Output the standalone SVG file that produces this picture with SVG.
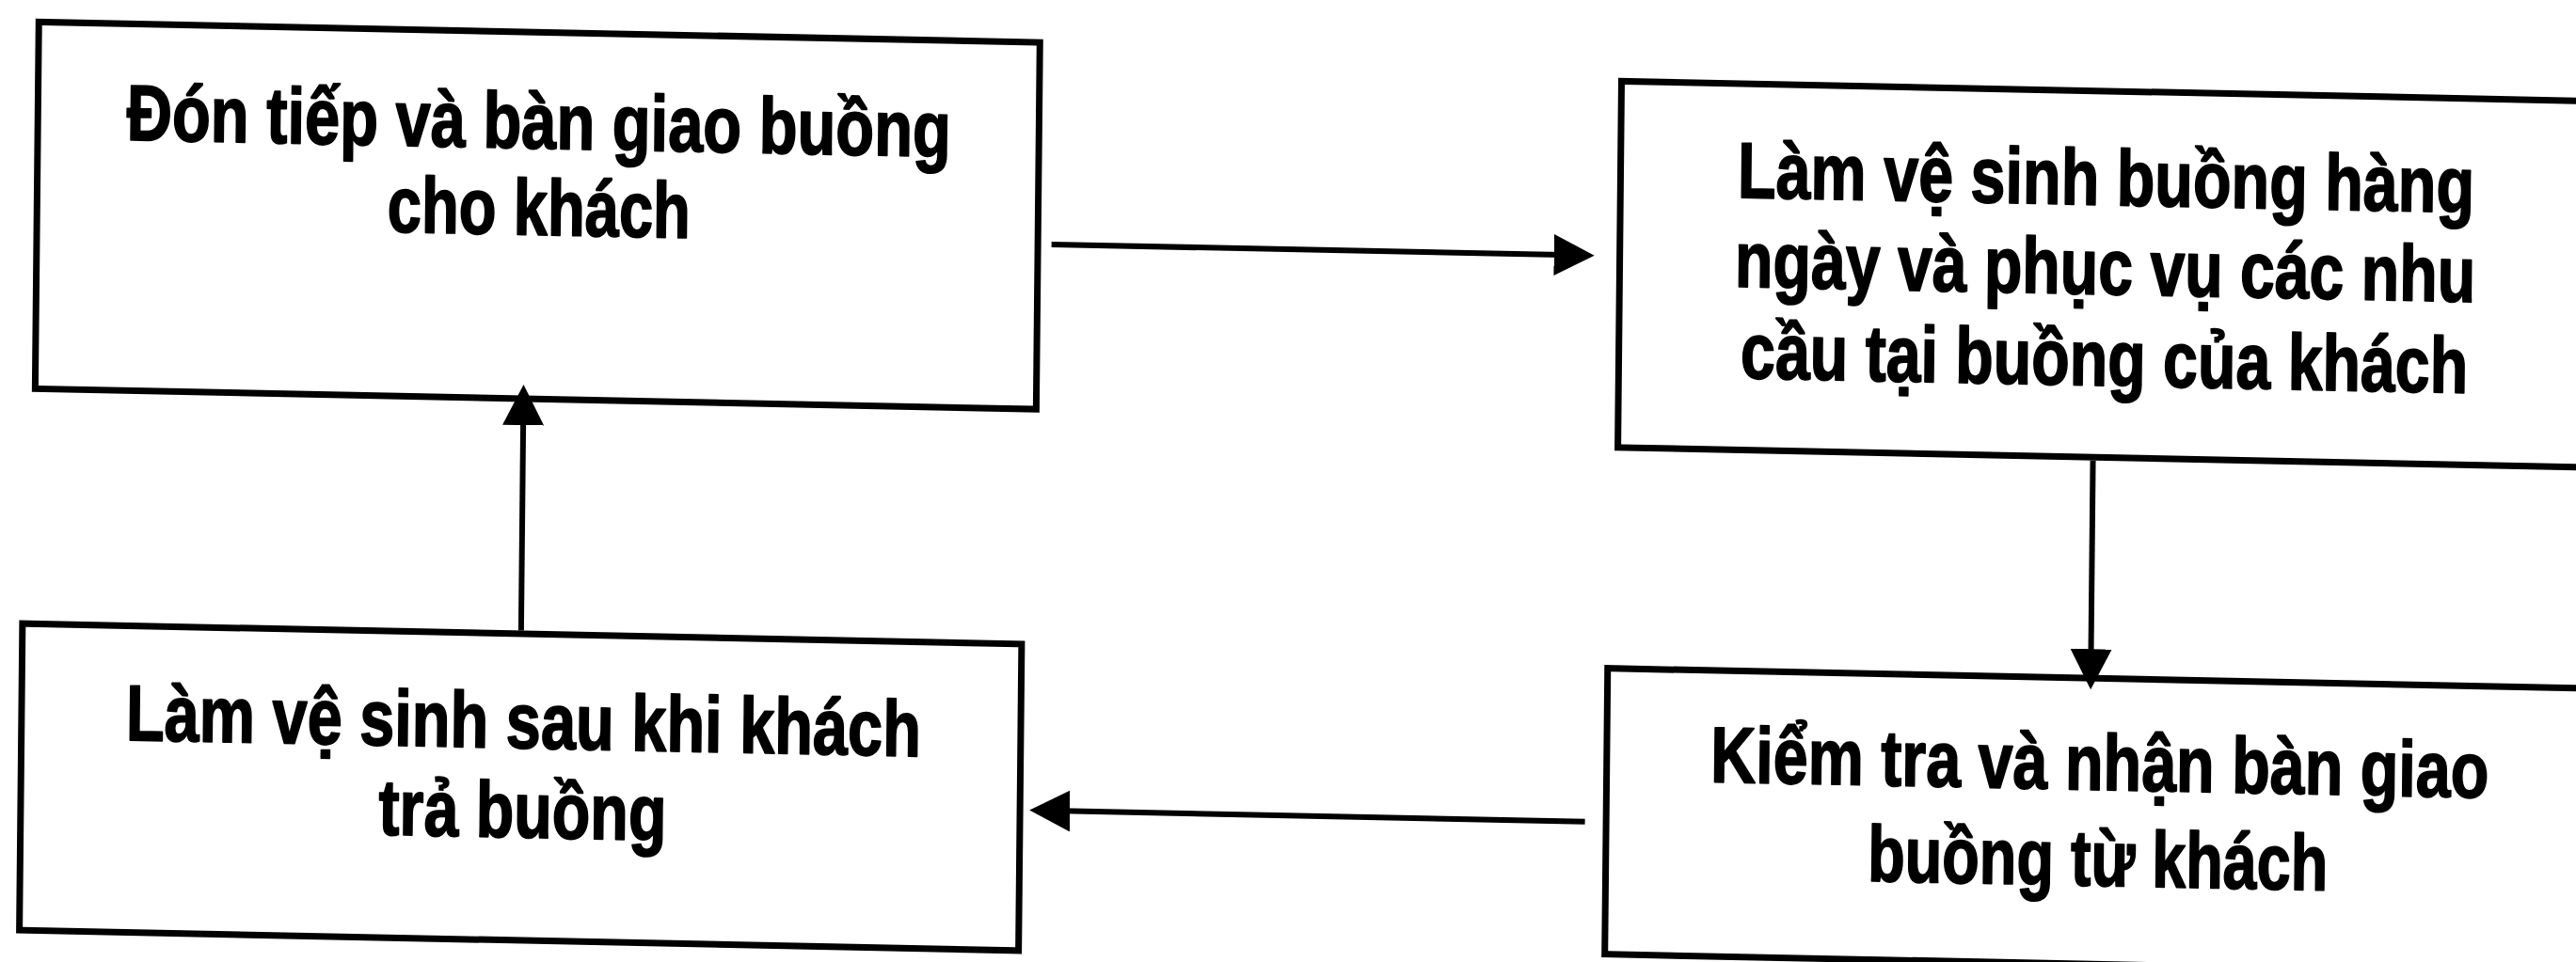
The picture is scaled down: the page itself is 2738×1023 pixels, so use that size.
<svg xmlns="http://www.w3.org/2000/svg" width="2738" height="1023" viewBox="0 0 2738 1023">
  <style>
    .box { fill: #ffffff; stroke: #000000; stroke-width: 7; }
    .lbl { font-family: "Liberation Sans Narrow", "Liberation Sans", Arial, sans-serif; font-weight: bold; font-size: 84px; fill: #000000; stroke: #000000; stroke-width: 1.8; stroke-linejoin: round; text-anchor: middle; }
    .link { fill: none; stroke: #000000; stroke-width: 6; }
  </style>
  <defs>
    <marker id="head" viewBox="0 0 43 44" refX="33" refY="22" markerWidth="43" markerHeight="44" markerUnits="userSpaceOnUse" orient="auto">
      <path d="M0,0 L43,22 L0,44 Z" fill="#000000"/>
    </marker>
  </defs>
  <rect x="0" y="0" width="2738" height="1023" fill="#ffffff"/>
  <!-- the whole sheet sits slightly skewed on the page -->
  <g transform="matrix(1 0.0205 -0.01 1 0 0)">
    <g id="node-don-tiep">
      <rect class="box" x="41.5" y="22.5" width="1064" height="390"/>
      <text class="lbl" x="574" y="146" textLength="876" lengthAdjust="spacingAndGlyphs">Đón tiếp và bàn giao buồng</text>
      <text class="lbl" x="575" y="238" textLength="322" lengthAdjust="spacingAndGlyphs">cho khách</text>
    </g>
    <g id="node-ve-sinh-hang-ngay">
      <rect class="box" x="1724" y="51" width="1036" height="389.5"/>
      <text class="lbl" x="2240" y="172" textLength="783" lengthAdjust="spacingAndGlyphs">Làm vệ sinh buồng hàng</text>
      <text class="lbl" x="2240" y="267" textLength="787" lengthAdjust="spacingAndGlyphs">ngày và phục vụ các nhu</text>
      <text class="lbl" x="2240" y="364" textLength="773" lengthAdjust="spacingAndGlyphs">cầu tại buồng của khách</text>
    </g>
    <g id="node-ve-sinh-sau">
      <rect class="box" x="30.5" y="662.5" width="1062" height="326"/>
      <text class="lbl" x="564" y="784" textLength="845" lengthAdjust="spacingAndGlyphs">Làm vệ sinh sau khi khách</text>
      <text class="lbl" x="564" y="879" textLength="306" lengthAdjust="spacingAndGlyphs">trả buồng</text>
    </g>
    <g id="node-kiem-tra">
      <rect class="box" x="1715.5" y="675.5" width="1049" height="304"/>
      <text class="lbl" x="2239.5" y="794" textLength="827" lengthAdjust="spacingAndGlyphs">Kiểm tra và nhận bàn giao</text>
      <text class="lbl" x="2238.5" y="896" textLength="489" lengthAdjust="spacingAndGlyphs">buồng từ khách</text>
    </g>
    <g id="connectors">
      <path class="link" d="M1120,237 L1687,237" marker-end="url(#head)"/>
      <path class="link" d="M2229,444 L2229,677.5" marker-end="url(#head)"/>
      <path class="link" d="M1693,839 L1112.6,839" marker-end="url(#head)"/>
      <path class="link" d="M560.5,659 L560.5,407.6" marker-end="url(#head)"/>
    </g>
  </g>
</svg>
